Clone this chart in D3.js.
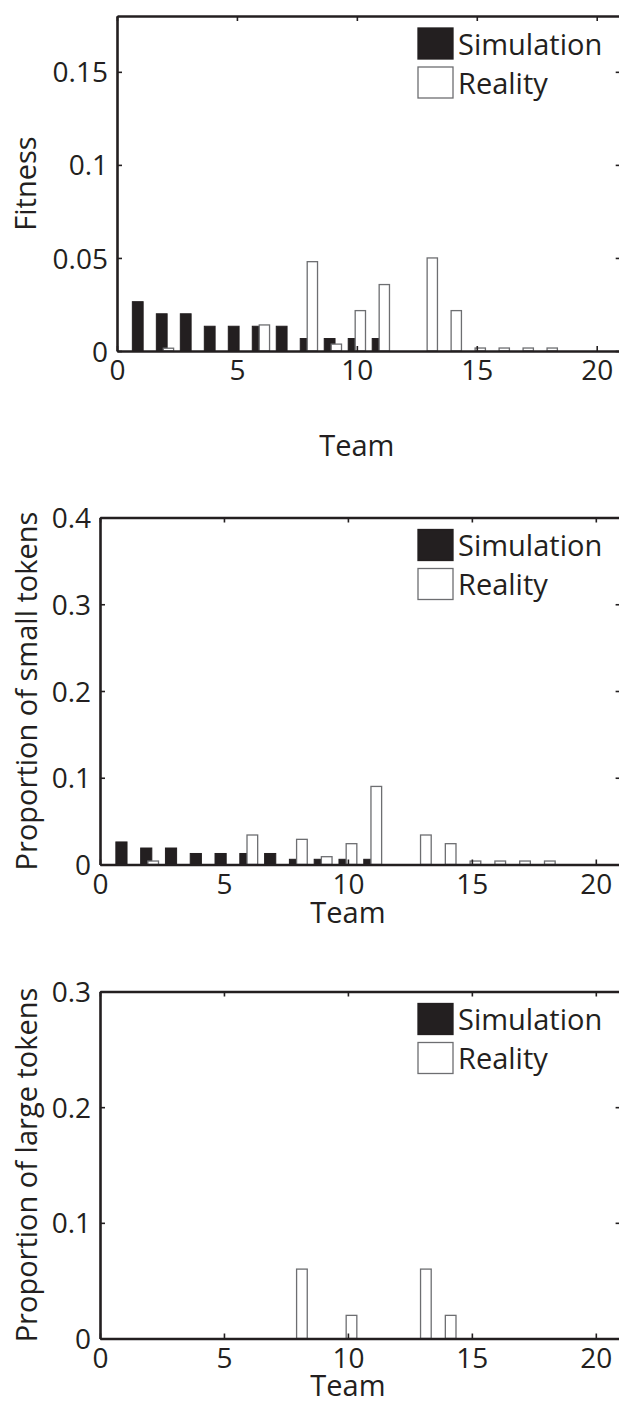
<!DOCTYPE html>
<html>
<head>
<meta charset="utf-8">
<script src="https://cdn.jsdelivr.net/npm/d3@7/dist/d3.min.js"></script>
<style>
  html, body { margin: 0; padding: 0; background: #fff; }
  svg { display: block; }
  text { font-family: "Open Sans", "Noto Sans", sans-serif; fill: #231f20; }
</style>
</head>
<body>
<svg id="chart" width="619" height="1405"></svg>
<script>
// Teams on the horizontal axis
const teams = [1, 2, 3, 4, 5, 6, 7, 8, 9, 10, 11, 12, 13, 14, 15, 16, 17, 18, 19, 20];

// Fitness per team
const fitnessSimulation = [0.0265, 0.020, 0.020, 0.0133, 0.0133, 0.0133, 0.0133, 0.0067, 0.0067, 0.0067, 0.0067, 0, 0, 0, 0, 0, 0, 0, 0, 0];
const fitnessReality    = [0, 0.0015, 0, 0, 0, 0.014, 0, 0.048, 0.0037, 0.0217, 0.0357, 0, 0.050, 0.0217, 0.0016, 0.0016, 0.0016, 0.0016, 0, 0];

// Proportion of small tokens per team
const smallSimulation = [0.026, 0.019, 0.019, 0.0127, 0.0127, 0.0127, 0.0127, 0.006, 0.006, 0.006, 0.006, 0, 0, 0, 0, 0, 0, 0, 0, 0];
const smallReality    = [0, 0.004, 0, 0, 0, 0.034, 0, 0.029, 0.009, 0.024, 0.090, 0, 0.034, 0.024, 0.004, 0.004, 0.004, 0.004, 0, 0];

// Proportion of large tokens per team
const largeSimulation = [0, 0, 0, 0, 0, 0, 0, 0, 0, 0, 0, 0, 0, 0, 0, 0, 0, 0, 0, 0];
const largeReality    = [0, 0, 0, 0, 0, 0, 0, 0.06, 0, 0.02, 0, 0, 0.06, 0.02, 0, 0, 0, 0, 0, 0];

// Axis ticks and labels
const xTicks = [0, 5, 10, 15, 20];
const fitnessTicks = [0, 0.05, 0.1, 0.15];
const smallTicks = [0, 0.1, 0.2, 0.3, 0.4];
const largeTicks = [0, 0.1, 0.2, 0.3];
const seriesNames = ["Simulation", "Reality"];
const xTitle = "Team";

const INK = "#231f20";
const OUTLINE = "#6d6e71";
const FONT = '"Open Sans", "Noto Sans", sans-serif';

const svg = d3.select("#chart");

function drawPanel(cfg) {
  const g = svg.append("g");
  const x = d3.scaleLinear().domain([0, 21]).range([cfg.left, cfg.right]);
  const y = d3.scaleLinear().domain([0, cfg.yMax]).range([cfg.bottom, cfg.top]);

  // bars: simulation first, reality drawn over it
  const rows = teams.map((t, i) => ({ t, sim: cfg.sim[i], real: cfg.real[i] }));
  g.selectAll("rect.sim").data(rows.filter(d => d.sim > 0)).join("rect")
    .attr("class", "sim")
    .attr("x", d => x(d.t - 0.36))
    .attr("width", d => x(d.t + 0.09) - x(d.t - 0.36))
    .attr("y", d => y(d.sim))
    .attr("height", d => y(0) - y(d.sim))
    .attr("fill", INK).attr("stroke", INK).attr("stroke-width", 1);
  g.selectAll("rect.real").data(rows.filter(d => d.real > 0)).join("rect")
    .attr("class", "real")
    .attr("x", d => x(d.t - 0.07))
    .attr("width", d => x(d.t + 0.36) - x(d.t - 0.07))
    .attr("y", d => y(d.real))
    .attr("height", d => y(0) - y(d.real))
    .attr("fill", "#fff").attr("stroke", OUTLINE).attr("stroke-width", 1.3);

  const fmt = d => d === 0 ? "0" : String(d);

  // left axis with labels, inward ticks
  const left = g.append("g").attr("transform", `translate(${cfg.left},0)`)
    .call(d3.axisLeft(y).tickValues(cfg.yTicks).tickFormat(fmt).tickSizeInner(-5).tickSizeOuter(0).tickPadding(9));
  // bottom axis with labels
  const bottom = g.append("g").attr("transform", `translate(0,${cfg.bottom})`)
    .call(d3.axisBottom(x).tickValues(xTicks).tickFormat(fmt).tickSizeInner(-5).tickSizeOuter(0).tickPadding(9));
  // top and right axes, ticks only
  const top = g.append("g").attr("transform", `translate(0,${cfg.top})`)
    .call(d3.axisTop(x).tickValues(xTicks).tickFormat("").tickSizeInner(-5).tickSizeOuter(0));
  const right = g.append("g").attr("transform", `translate(${cfg.right},0)`)
    .call(d3.axisRight(y).tickValues(cfg.yTicks).tickFormat("").tickSizeInner(-5).tickSizeOuter(0));

  [left, bottom, top, right].forEach(a => {
    a.select(".domain").attr("stroke", INK).attr("stroke-width", 2.6);
    a.selectAll(".tick line").attr("stroke", INK).attr("stroke-width", 1.6);
    a.selectAll(".tick text").attr("fill", INK).style("font-size", "28px").style("font-family", FONT);
  });
  left.selectAll(".tick text").attr("dy", "0.36em");
  bottom.selectAll(".tick text").attr("dy", "0.72em");

  // axis titles
  g.append("text")
    .attr("transform", `translate(${cfg.yTitleX},${(cfg.top + cfg.bottom) / 2}) rotate(-90)`)
    .attr("text-anchor", "middle").attr("dy", "0.36em")
    .style("font-size", "29px").text(cfg.yTitle);
  g.append("text")
    .attr("x", x(10)).attr("y", cfg.xTitleBase)
    .attr("text-anchor", "middle")
    .style("font-size", "29px").text(xTitle);

  // legend
  const lg = g.append("g");
  const swatchX = 418, swatchW = 35, swatchH = 31;
  seriesNames.forEach((name, i) => {
    const sy = cfg.top + 12 + i * 39;
    lg.append("rect").attr("x", swatchX).attr("y", sy).attr("width", swatchW).attr("height", swatchH)
      .attr("fill", i === 0 ? INK : "#fff")
      .attr("stroke", i === 0 ? INK : OUTLINE).attr("stroke-width", 1.3);
    lg.append("text").attr("x", swatchX + swatchW + 5).attr("y", sy + swatchH / 2 + 1)
      .attr("dy", "0.36em").style("font-size", "29px").text(name);
  });
}

drawPanel({ left: 117, right: 620.7, top: 16, bottom: 351, yMax: 0.18,
  sim: fitnessSimulation, real: fitnessReality, yTicks: fitnessTicks,
  yTitle: "Fitness", yTitleX: 26, xTitleBase: 456 });

drawPanel({ left: 100, right: 620.6, top: 517.5, bottom: 864.5, yMax: 0.4,
  sim: smallSimulation, real: smallReality, yTicks: smallTicks,
  yTitle: "Proportion of small tokens", yTitleX: 27, xTitleBase: 923 });

drawPanel({ left: 100, right: 620.6, top: 991.5, bottom: 1338.5, yMax: 0.3,
  sim: largeSimulation, real: largeReality, yTicks: largeTicks,
  yTitle: "Proportion of large tokens", yTitleX: 27, xTitleBase: 1396 });
</script>
</body>
</html>
